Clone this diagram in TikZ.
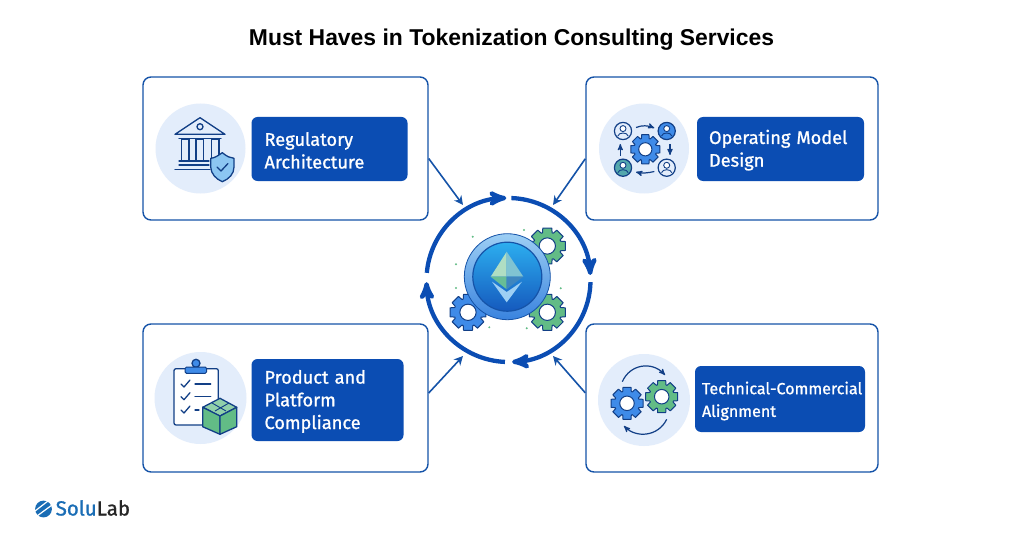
\documentclass[tikz,border=0pt]{standalone}
\usepackage{fontspec}
\setmainfont[FakeBold=1]{Fira Sans}
\newfontfamily\titlefont{Liberation Sans}
\usetikzlibrary{arrows,arrows.meta}

\definecolor{lineblue}{HTML}{1553A8}
\definecolor{boxblue}{HTML}{0B4DB3}
\definecolor{palecircle}{HTML}{E3EDFB}
\definecolor{iconblue}{HTML}{3F8BE8}
\definecolor{lightblue}{HTML}{8CC6F2}
\definecolor{icongreen}{HTML}{62BC86}
\definecolor{darkline}{HTML}{123F86}
\definecolor{logoblue}{HTML}{1A6DB5}

\newcommand{\upstrut}{\rule{0pt}{16.5pt}}
% x, y, radius, fill
\newcommand{\gearicon}[4]{
	\begin{scope}[shift={(#1,#2)}]
		\filldraw[fill=#4,draw=darkline,line width=1pt,line join=round] (-14:#3)
		\foreach \a in {0,45,...,315} {
			-- (\a-14:#3) -- (\a+14:#3) -- (\a+20:#3*0.76) -- (\a+25:#3*0.76)
		} -- cycle;
		\filldraw[fill=white,draw=darkline,line width=1pt] (0,0) circle (#3*0.44);
	\end{scope}
}
% x, y, fill
\newcommand{\personicon}[3]{
	\begin{scope}[shift={(#1,#2)}]
		\filldraw[fill=#3,draw=darkline,line width=1.2pt] (0,0) circle (8.6);
		\filldraw[fill=white,draw=darkline,line width=0.9pt] (0,-2.4) circle (3);
		\draw[darkline,line width=0.9pt] (-5.2,5) .. controls (-4,1) and (4,1) .. (5.2,5);
	\end{scope}
}

\begin{document}
\begin{tikzpicture}[x=1pt,y=-1pt,
		card node/.style={rectangle,draw=lineblue,fill=white,line width=1.4pt,
			rounded corners=8pt,minimum width=285pt},
		icon node/.style={circle,fill=palecircle,minimum size=90pt,inner sep=0pt},
		label node/.style={rectangle,fill=boxblue,text=white,rounded corners=6pt,
			font=\fontsize{18.2}{22.7}\selectfont,align=left,inner ysep=0pt},
		feed line/.style={-{Stealth[length=9pt,width=9pt]},draw=lineblue,line width=1.6pt},
		ring arc/.style={->,>={stealth'[scale=0.62]},draw=boxblue,line width=4.3pt},
		icon line/.style={draw=darkline,line width=1.3pt,line join=round,line cap=round},
		icon arrow/.style={->,>={stealth'[scale=1.3]},draw=darkline,line width=1.2pt}
	]
	\useasboundingbox (0,0) rectangle (1024,540);
	
	\node[font=\titlefont\fontsize{22.9}{26}\selectfont\bfseries] (TITLE) at (511.5,40)
		{Must Haves in Tokenization Consulting Services};
	
	\node[card node,minimum height=143pt] (RA) at (285.5,148.5) {};
	\node[card node,minimum height=143pt,minimum width=292pt] (OMD) [right of=RA, node distance=446.5pt] {};
	\node[card node,minimum height=148pt] (PPC) at (285.5,398) {};
	\node[card node,minimum height=148pt,minimum width=292pt] (TCA) [right of=PPC, node distance=446.5pt] {};
	
	\node[icon node] (IRA) [left of=RA, node distance=85pt] {};
	\node[icon node] (IOMD) [left of=OMD, node distance=88pt] {};
	\node[icon node,minimum size=92pt] (IPPC) [left of=PPC, node distance=85pt] {};
	\node[icon node,minimum size=92pt,yshift=-2pt] (ITCA) [left of=TCA, node distance=88pt] {};
	
	\node[label node,text width=130pt,inner xsep=13pt,minimum height=64pt,yshift=-0.5pt] (LRA) [right of=IRA, node distance=129pt] {\upstrut Regulatory\\Architecture};
	\node[label node,text width=143pt,inner xsep=12pt,minimum height=64pt,yshift=-0.5pt] (LOMD) [right of=IOMD, node distance=136.5pt] {\upstrut Operating Model\\Design};
	\node[label node,text width=126pt,inner xsep=13pt,minimum height=82pt,yshift=-2pt] (LPPC) [right of=IPPC, node distance=127pt] {\upstrut Product and\\Platform\\Compliance};
	\node[label node,text width=156pt,inner xsep=7pt,minimum height=66pt,yshift=1pt,font=\fontsize{16.1}{22.7}\selectfont] (LTCA) [right of=ITCA, node distance=136pt] {\upstrut\mbox{Technical-Commercial}\\Alignment};
	
	% centre
	\coordinate (RING) at (508.5,280);
	\draw[ring arc] (RING) ++(185:82) arc (185:268.5:82);
	\draw[ring arc] (RING) ++(272:82) arc (272:356.5:82);
	\draw[ring arc] (RING) ++(1.5:82) arc (1.5:87.5:82);
	\draw[ring arc] (RING) ++(92.5:82) arc (92.5:178.5:82);
	
	\gearicon{547.3}{246}{18.5}{icongreen}
	\gearicon{547.3}{312.3}{18.5}{icongreen}
	\gearicon{468}{312.3}{18.5}{iconblue}
	
	\foreach \x/\y in {472.7/236.7,524/230,456/264.3,560.7/288.3,526.7/328.3,489.3/327.3,456/288}
		\fill[icongreen] (\x,\y) circle (1.1);
	
	\node[circle,draw=lineblue,line width=0.8pt,top color=lightblue!85!white,bottom color=iconblue!85!lineblue,
		minimum size=86pt,inner sep=0pt] (COIN) at (507.3,276.7) {};
	\node[circle,draw=lineblue,line width=1.2pt,top color=iconblue!70!cyan,bottom color=boxblue!80!iconblue,
		minimum size=69pt,inner sep=0pt] (CORE) at (COIN) {};
	\fill[icongreen!50!white] (506.7,251.7) -- (490.7,276.7) -- (506.7,276.7) -- cycle;
	\fill[lightblue!70!icongreen] (506.7,251.7) -- (523.3,276.7) -- (506.7,276.7) -- cycle;
	\fill[icongreen!85!lightblue] (490.7,276.7) -- (506.7,276.7) -- (506.7,289.3) -- cycle;
	\fill[iconblue!80!icongreen!90!black] (523.3,276.7) -- (506.7,276.7) -- (506.7,289.3) -- cycle;
	\fill[lightblue!85!white] (492,281.7) -- (506.7,292) -- (522,281.7) -- (506.7,302.3) -- cycle;
	
	\coordinate (TL) at (463,205);
	\coordinate (TR) at (553,205);
	\coordinate (BL) at (463,356);
	\coordinate (BR) at (553,356);
	\draw[feed line] (RA.-4.8) -- (TL);
	\draw[feed line] (OMD.184.8) -- (TR);
	\draw[feed line] (PPC.2) -- (BL);
	\draw[feed line] (TCA.178) -- (BR);
	
	% regulatory icon
	\draw[icon line] (175,134.3) -- (200,117.7) -- (225,134.3) -- cycle;
	\draw[icon line] (200,126.7) circle (3);
	\draw[icon line] (179,138.5) -- (221,138.5);
	\foreach \x in {181.7,196,211.7}
		\draw[icon line] (\x,139) rectangle (\x+7.3,160.7);
	\draw[icon line] (179,161) -- (209,161) (179,165) -- (209,165);
	\draw[icon line] (175,169.5) -- (210,169.5);
	\filldraw[icon line,fill=lightblue] (222.3,152.7) .. controls (217,156.5) and (214,158) .. (210.7,158.3)
		-- (210.7,167) .. controls (211,174) and (216,179) .. (222.3,181.7)
		.. controls (229,179) and (234,174) .. (234,167) -- (234,158.3)
		.. controls (230,158) and (227,156.5) .. (222.3,152.7) -- cycle;
	\draw[icon line] (217,167) -- (221,171) -- (228,163.5);
	
	% operating icon
	\personicon{623}{131}{palecircle}
	\personicon{666.7}{131}{iconblue}
	\personicon{623}{167.7}{icongreen!60!iconblue}
	\personicon{666.7}{167.7}{palecircle}
	\gearicon{645.3}{149.3}{15}{iconblue}
	\draw[icon arrow] (636,127.5) .. controls (642,125) and (648,125.5) .. (654.3,128);
	\draw[icon arrow] (670,144) -- (670,155);
	\draw[icon arrow] (654.3,171.5) .. controls (648,173) and (642,173.5) .. (636,172);
	\draw[icon arrow] (620.3,156) -- (620.3,144);
	
	% compliance icon
	\filldraw[icon line,fill=white,rounded corners=2pt] (174,368.7) rectangle (218.3,425);
	\filldraw[icon line,fill=iconblue] (196,363.3) circle (4);
	\filldraw[draw=darkline,line width=1pt,fill=iconblue,rounded corners=1.5pt] (185,367) rectangle (206.7,373.3);
	\foreach \y/\w in {384/15.7,396.7/15.7,410/4} {
		\draw[icon line] (181,\y) -- (184,\y+3) -- (190,\y-4);
		\draw[icon line] (195,\y) -- (195+\w,\y);
	}
	\filldraw[icon line,fill=icongreen!70!white] (220,398.3) -- (202.7,407.3) -- (220,416) -- (236.7,407.3) -- cycle;
	\filldraw[icon line,fill=icongreen] (202.7,407.3) -- (220,416) -- (220,434.3) -- (202.7,426.7) -- cycle;
	\filldraw[icon line,fill=icongreen] (236.7,407.3) -- (220,416) -- (220,434.3) -- (236.7,426.7) -- cycle;
	\draw[darkline,line width=0.9pt] (212,403) -- (226,411) (229,403) -- (215,411);
	
	% alignment icon
	\gearicon{627}{403.3}{16.5}{iconblue}
	\gearicon{661.7}{396.7}{16.5}{icongreen}
	\draw[icon arrow] (622.3,381.7) .. controls (630,364) and (652,361) .. (665,375);
	\draw[icon arrow] (666.7,419.3) .. controls (658,437) and (636,438) .. (624,426);
	
	% logo
	\fill[logoblue] (43.5,509) circle (8.4);
	\draw[white,line width=1.2pt] (35,511) -- (48,501) (37,516) -- (52,505);
	\node[anchor=base west,inner sep=0pt,font=\fontsize{20.5}{22}\selectfont] (LOGO) at (55.5,515.5)
		{\textcolor{logoblue}{Solu}\textcolor{black!85}{Lab}};
\end{tikzpicture}
\end{document}
